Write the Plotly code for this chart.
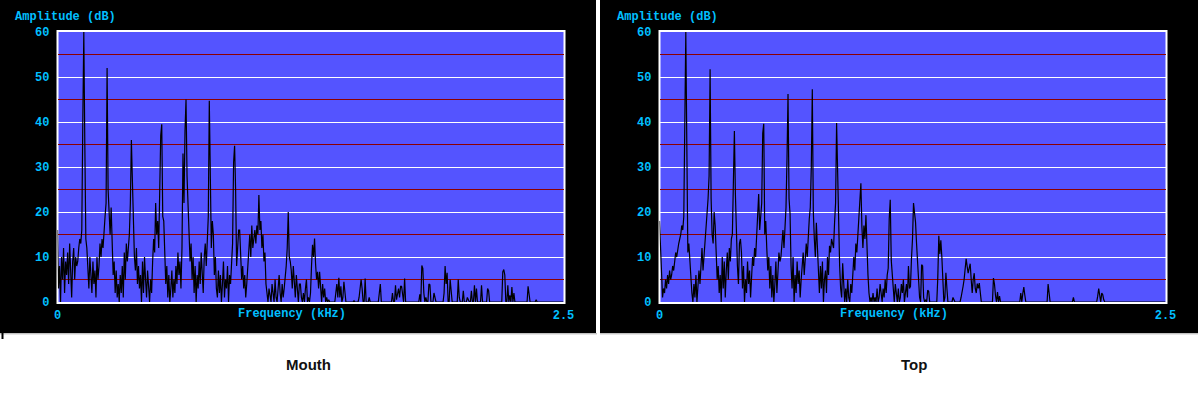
import numpy as np
import plotly.graph_objects as go

# ---------------- data (dB per 0.005 kHz bin, 0 .. 2.5 kHz) ----------------
BIN_KHZ = 0.005

mouth_db = [
    16, 3, 8, 0, 10, 5, 12, 2, 9, 6, 11, 4, 13, 7, 1, 9, 12, 5, 10, 8,
    9, 12, 14, 13, 16, 40, 60, 35, 14, 12, 8, 3, 10, 6, 2, 9, 4, 7, 1, 10,
    5, 8, 13, 10, 14, 12, 17, 19, 22, 52, 25, 18, 15, 21, 14, 6, 9, 2, 7, 1,
    4, 0, 6, 2, 8, 1, 11, 5, 13, 9, 12, 15, 22, 36, 27, 18, 10, 7, 12, 4,
    8, 3, 6, 0, 9, 2, 10, 5, 1, 7, 3, 0, 5, 2, 9, 14, 11, 22, 15, 18,
    12, 25, 37, 39.5, 19, 18, 10, 4, 8, 1, 6, 0, 3, 7, 1, 5, 2, 8, 4, 11,
    6, 9, 3, 12, 33, 22, 38, 45, 28, 22, 17, 9, 13, 5, 10, 2, 8, 0, 6, 3,
    9, 4, 11, 7, 2, 10, 13, 8, 15, 19, 44.7, 19, 12, 18, 15, 6, 10, 3, 1, 7,
    2, 6, 0, 4, 9, 1, 5, 3, 8, 0, 6, 4, 10, 13, 31, 34.7, 25, 8, 12, 16,
    16, 9, 5, 8, 3, 6, 1, 4, 7, 11, 15, 10, 17, 12, 14, 16, 13, 17, 15, 23.8,
    16, 18, 12, 15, 9, 11, 4, 1, 0, 3, 1, 0, 4, 2, 0, 5, 1, 0, 3, 6,
    2, 0, 4, 1, 3, 5, 8, 12, 20, 10, 9, 7, 3, 8, 5, 1, 6, 3, 0, 4,
    4, 1, 0, 2, 0, 3, 5, 0, 1, 0, 2, 8, 12.7, 10, 14.1, 8.5, 5, 6.7, 3, 6.7,
    3, 0, 4, 1, 3, 0, 1, 0, 0.5, 0, 0, 0, 0, 0, 0, 2, 4, 1, 5.4, 1,
    3.5, 0, 1, 4.5, 2, 0, 0, 0, 0, 0, 0, 0, 0, 0.3, 0, 0, 0, 0, 1, 3.7,
    5, 3, 0, 0, 5.2, 0, 0, 0, 1, 0, 0, 0, 0, 0, 0, 0, 0, 0, 2, 4,
    0, 0, 0, 0, 0, 0, 0, 0, 0, 0, 0, 2, 0, 0, 3.7, 0.5, 2, 3, 1, 3.5,
    3.5, 1, 0, 5.2, 0, 0, 0, 0, 0, 0, 0, 0, 0, 0, 0, 0, 0, 0, 1.7, 0,
    8.1, 7.5, 2, 0, 1, 0, 0, 4, 3.8, 0, 0, 0, 2, 1, 0, 0, 0, 0, 0, 0,
    0, 0, 2, 8, 4, 6.5, 0, 0, 5, 2, 0, 0, 0, 0, 0, 0, 5, 1, 0, 0,
    0, 2.5, 0, 0, 0, 1, 0.5, 0, 0, 2.5, 0, 0, 3.7, 0, 3, 0, 0, 0, 0, 3.7,
    0, 0, 0, 0, 0, 3, 2.5, 0, 0, 0, 0, 0, 0, 0, 0, 0, 0, 0, 0, 0,
    6.7, 7.2, 6, 0, 0, 3.7, 0, 1.5, 0, 3.3, 0, 2, 0, 0, 0, 0, 0, 0, 0, 0,
    0, 0, 0, 0, 0, 3.5, 2, 0, 0, 0, 0, 0, 0, 0.5, 0, 0, 0, 0, 0, 0,
    0, 0, 0, 0, 0, 0, 0, 0, 0, 0, 0, 0, 0, 0, 0, 0, 0, 0, 0, 0,
    0,
]

top_db = [
    18, 12, 4, 1, 3, 2, 5, 3, 6, 4, 7, 5, 6, 8, 7, 9, 11, 10, 12, 13,
    14, 15, 17, 16, 19, 40, 60, 35, 11, 13, 9, 5, 2, 0, 4, 1, 6, 0, 3, 7,
    4, 9, 12, 7, 10, 12, 15, 18, 23, 28, 51.7, 23, 15, 13, 20, 17, 11, 5, 8, 2,
    6, 0, 10, 3, 9, 1, 7, 11, 5, 12, 9, 14, 15, 28, 38, 24, 12, 8, 4, 13,
    14, 11, 3, 8, 0, 5, 2, 9, 4, 7, 1, 6, 10, 8, 12, 10, 14, 19, 24, 16,
    20, 22, 37.5, 39.6, 15, 18, 12, 7, 10, 3, 8, 1, 6, 0, 4, 9, 2, 7, 11, 9,
    10, 13, 16, 12, 17, 21, 32, 46.2, 23, 19.6, 8, 3, 10, 0, 6, 2, 9, 4, 7, 1,
    5, 8, 11, 6, 9, 13, 10, 16, 18.5, 21, 30, 47.3, 20, 14, 10, 17.6, 12, 6, 2, 8,
    3, 9, 0, 5, 7, 2, 10, 6, 12.5, 11, 14, 13, 12, 17.7, 22, 39.8, 30, 13, 8, 3,
    1, 8.6, 4, 0, 3, 0, 5, 1, 0, 4, 2, 6, 10, 7, 13, 11, 15, 18, 22, 26.4,
    16.7, 12, 17, 14, 19.3, 10, 6, 2, 0, 1, 0, 2, 0, 1, 0, 3, 0, 1, 4, 2,
    0, 3, 1, 5, 2, 6, 7.5, 18.5, 22.7, 9.3, 6, 3, 0, 4, 1, 0, 3, 0, 1, 4,
    2, 5, 0, 2, 4, 1, 8, 3, 3.5, 9.7, 14, 22, 19.7, 17.7, 13, 8, 6.5, 1, 0, 8.3,
    8, 1, 0, 0.5, 0, 2.6, 2.4, 0, 0, 0, 0, 0, 0, 0, 0, 5.5, 14.7, 10.7, 13.7, 10,
    5, 0, 1, 6.5, 3, 0, 0, 0, 0, 0, 1, 0.5, 0, 0, 0, 0, 0, 0, 1, 2,
    3.5, 5, 7, 9.6, 7.9, 6.4, 7.5, 8.5, 5, 2, 5, 6.4, 3, 2, 4.1, 3, 4.2, 1, 0, 0,
    0, 0, 0, 0, 0, 0, 0, 0, 0, 0, 5.3, 4, 1.5, 0, 2.2, 0, 1.3, 0, 0, 0,
    0, 0, 0, 0, 0, 0, 0, 0, 0, 0, 0, 0, 0, 0, 0, 0, 0, 2, 0, 1.9,
    3.3, 1.5, 0, 0, 0, 0, 0, 0, 0, 0, 0, 0, 0, 0, 0, 0, 0, 0, 0, 0,
    0, 0, 0, 0, 4, 2.3, 0, 0, 0, 0, 0, 0, 0, 0, 0, 0, 0, 0, 0, 0,
    0, 0, 0, 0, 0, 0, 0, 0, 0, 1, 0, 0, 0, 0, 0, 0, 0, 0, 0, 0,
    0, 0, 0, 0, 0, 0, 0, 0, 0, 0, 0, 0, 0, 1.3, 3, 1.5, 0, 2, 1.6, 0.5,
    0, 0, 0, 0, 0, 0, 0, 0, 0, 0, 0, 0, 0, 0, 0, 0, 0, 0, 0, 0,
    0, 0, 0, 0, 0, 0, 0, 0, 0, 0, 0, 0, 0, 0, 0, 0, 0, 0, 0, 0,
    0, 0, 0, 0, 0, 0, 0, 0, 0, 0, 0, 0, 0, 0, 0, 0, 0, 0, 0, 0,
    0,
]

x_tick_vals = [0, 2.5]
x_tick_text = ["0", "2.5"]
y_title = "Amplitude (dB)"
x_title = "Frequency (kHz)"
captions = ["Mouth", "Top"]

# ---------------- styling ----------------
W, H = 1198, 393
CYAN = "#00bfff"
BLUE = "#5454ff"
DARKRED = "#8c0000"
mono = dict(family="Liberation Mono", size=12, color=CYAN, weight="bold")


def px(x):
    return x / W


def py(y):
    return 1 - y / H


fig = go.Figure()
shapes = []
annotations = []
panel_offsets = [0, 602]
series = [mouth_db, top_db]

# black panels and the thin grey rule below them
shapes.append(dict(type="rect", xref="paper", yref="paper", x0=px(0), x1=px(596),
                   y0=py(333), y1=py(0), fillcolor="black", line_width=0, layer="below"))
shapes.append(dict(type="rect", xref="paper", yref="paper", x0=px(600), x1=px(1198),
                   y0=py(333), y1=py(0), fillcolor="black", line_width=0, layer="below"))
shapes.append(dict(type="line", xref="paper", yref="paper", x0=px(0), x1=px(597),
                   y0=py(333.8), y1=py(333.8), line=dict(color="#a8a8a8", width=1), layer="below"))
shapes.append(dict(type="line", xref="paper", yref="paper", x0=px(600), x1=px(1198),
                   y0=py(333.8), y1=py(333.8), line=dict(color="#a8a8a8", width=1), layer="below"))
shapes.append(dict(type="rect", xref="paper", yref="paper", x0=px(1.5), x1=px(3.5),
                   y0=py(339), y1=py(333), fillcolor="black", line_width=0, layer="below"))

for i, (vals, ox) in enumerate(zip(series, panel_offsets)):
    sfx = "" if i == 0 else str(i + 1)
    freq = np.arange(len(vals)) * BIN_KHZ

    # blue plot area + white frame
    shapes.append(dict(type="rect", xref="paper", yref="paper",
                       x0=px(57.5 + ox), x1=px(564.5 + ox), y0=py(303), y1=py(31),
                       fillcolor=BLUE, line=dict(color="white", width=2), layer="below"))

    fig.add_trace(go.Scatter(
        x=freq, y=vals, mode="lines",
        line=dict(color="black", width=1.2),
        xaxis="x" + sfx, yaxis="y" + sfx, hoverinfo="skip", showlegend=False,
    ))

    fig.layout["xaxis" + sfx] = dict(
        domain=[px(57.5 + ox), px(563.5 + ox)], range=[0, 2.5],
        tickmode="array", tickvals=x_tick_vals, ticktext=x_tick_text,
        showgrid=False, zeroline=False, showline=False, ticks="",
        tickfont=mono, ticklabelstandoff=4, anchor="y" + sfx, fixedrange=True,
        automargin=False,
    )
    fig.layout["yaxis" + sfx] = dict(
        domain=[py(302), py(32)], range=[0, 60],
        tickmode="linear", tick0=0, dtick=10,
        showgrid=True, gridcolor="white", gridwidth=1,
        minor=dict(tick0=0, dtick=5, showgrid=True, gridcolor=DARKRED, gridwidth=1.5),
        zeroline=False, showline=False, ticks="",
        tickfont=mono, ticklabelstandoff=7, anchor="x" + sfx, fixedrange=True,
        automargin=False,
    )

    annotations.append(dict(text=y_title, xref="paper", yref="paper",
                            x=px(13 + ox), y=py(16.7), xanchor="left", yanchor="middle",
                            showarrow=False, font=mono))
    annotations.append(dict(text=x_title, xref="paper", yref="paper",
                            x=px(291.7 + ox), y=py(314), xanchor="center", yanchor="middle",
                            showarrow=False, font=mono))
    annotations.append(dict(text="<b>%s</b>" % captions[i], xref="paper", yref="paper",
                            x=px(308.7 + ox + (3 if i else 0)), y=py(364),
                            xanchor="center", yanchor="middle", showarrow=False,
                            font=dict(family="Liberation Sans", size=15, color="#111111")))

fig.update_layout(
    width=W, height=H, autosize=False,
    margin=dict(l=0, r=0, t=0, b=0, pad=0, autoexpand=False),
    paper_bgcolor="white", plot_bgcolor="rgba(0,0,0,0)",
    shapes=shapes, annotations=annotations,
    showlegend=False, hovermode=False,
)

POST = (
    "document.documentElement.style.margin='0';"
    "document.body.style.margin='0';"
    "document.body.style.padding='0';"
)

fig.write_html("out.html",
               config={"displayModeBar": False, "staticPlot": True, "responsive": False},
               post_script=POST)
